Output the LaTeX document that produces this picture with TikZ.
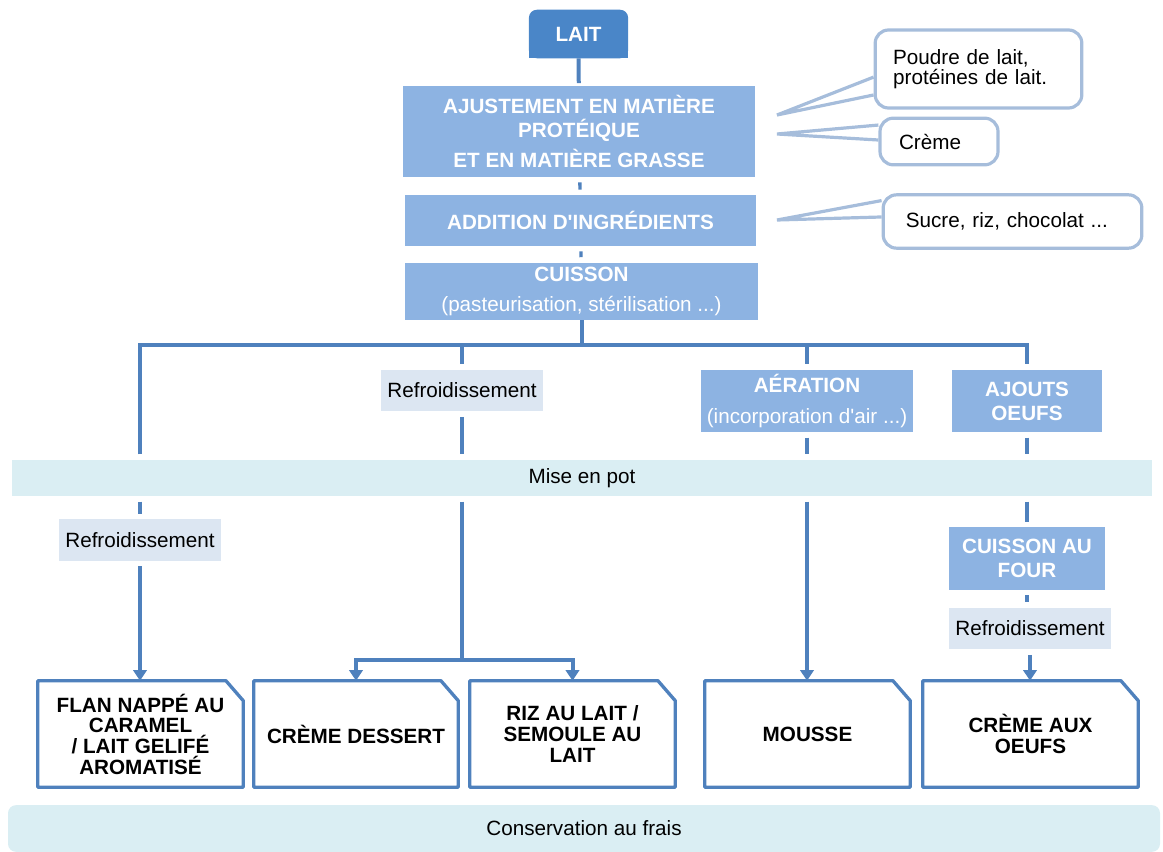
\documentclass[tikz,border=0pt]{standalone}
\usepackage{fontspec}
\setmainfont{Liberation Sans}
\usetikzlibrary{arrows.meta,calc,backgrounds}

\definecolor{laitblue}{RGB}{74,134,200}
\definecolor{procblue}{RGB}{141,179,226}
\definecolor{linkblue}{RGB}{79,129,189}
\definecolor{coolfill}{RGB}{220,230,242}
\definecolor{bandfill}{RGB}{218,238,243}
\definecolor{noteline}{RGB}{166,189,219}

\tikzset{
  laitbox/.style={text=white, font=\fontsize{15.5}{18}\selectfont\bfseries, minimum width=74pt, minimum height=36pt, inner sep=0pt},
  procbox/.style={fill=procblue, text=white, font=\fontsize{15.5}{18}\selectfont\bfseries, align=center, inner sep=0pt},
  coolbox/.style={fill=coolfill, font=\fontsize{15.5}{18}\selectfont, minimum width=122pt, minimum height=31pt, inner sep=0pt},
  bandbox/.style={fill=bandfill, font=\fontsize{15.5}{18}\selectfont, inner sep=0pt},
  prodbox/.style={font=\fontsize{15.5}{15.5}\selectfont\bfseries, align=center, minimum height=79.5pt, inner sep=0pt},
  notebox/.style={draw=noteline, line width=2.4pt, fill=white, rounded corners=10pt, font=\fontsize{15.5}{14.5}\selectfont, align=left, inner sep=0pt},
  flowline/.style={draw=linkblue, line width=3pt},
  flowarrow/.style={flowline, -{Triangle[width=10pt,length=8pt]}},
  gap/.style={shorten <=4pt, shorten >=4pt},
}

\begin{document}
\begin{tikzpicture}[x=0.75pt, y=-0.75pt]
\useasboundingbox (0,0) rectangle (1163,852);

% main chain
\node[laitbox] (lait) at (578.5,34) {LAIT};
\begin{scope}[on background layer]
  \fill[laitblue, rounded corners=6pt] (lait.south west) rectangle (lait.north east);
  \fill[laitblue] (lait.south west) rectangle (lait.east);
\end{scope}
\node[procbox, minimum width=264pt, minimum height=68pt] (ajust) at (579,131.5)
  {AJUSTEMENT EN MATIÈRE\\PROTÉIQUE\\[4pt]ET EN MATIÈRE GRASSE};
\node[procbox, minimum width=263pt, minimum height=38pt] (addit) at (580.5,220.5) {ADDITION D\textquotesingle INGRÉDIENTS};
\node[procbox, minimum width=265pt, minimum height=43pt] (cuis) at (581.5,291.5)
  {CUISSON\\[4pt]{\mdseries (pasteurisation, stérilisation ...)}};

% callouts
\node[notebox, minimum width=155pt, minimum height=58.5pt, text width=128pt] (poudre) at (978.5,69) {Poudre de lait,\\protéines de lait.};
\node[notebox, minimum width=88.5pt, minimum height=35pt, text width=60pt] (cremenote) at (939,141.5) {Crème};
\node[notebox, minimum width=194pt, minimum height=40pt, text width=160pt] (sucre) at (1012.5,221.5) {Sucre, riz, chocolat ...};
\coordinate (tip1) at (777,115);
\coordinate (tip2) at (777,134);
\coordinate (tip3) at (777,220);
\draw[noteline, line width=2.4pt] ($(poudre.north west)!0.60!(poudre.south west)$) -- (tip1) -- ($(poudre.north west)!0.82!(poudre.south west)$);
\draw[noteline, line width=2.4pt] ($(cremenote.north west)!0.17!(cremenote.south west)$) -- (tip2) -- ($(cremenote.north west)!0.47!(cremenote.south west)$);
\draw[noteline, line width=2.4pt] ($(sucre.north west)!0.13!(sucre.south west)$) -- (tip3) -- ($(sucre.north west)!0.42!(sucre.south west)$);

% branches
\node[coolbox] (refr1) at (462,390.5) {Refroidissement};
\node[procbox, minimum width=159pt, minimum height=46.5pt] (aer) at (807,401)
  {AÉRATION\\[5pt]{\mdseries (incorporation d\textquotesingle air ...)}};
\node[procbox, minimum width=112.5pt, minimum height=46.5pt] (ajouts) at (1027,401) {AJOUTS\\OEUFS};
\node[bandbox, minimum width=855pt, minimum height=27pt] (pot) at (582,478) {Mise en pot};
\node[coolbox] (refr2) at (140,540) {Refroidissement};
\node[procbox, minimum width=117pt, minimum height=47pt] (four) at (1027,558.5) {CUISSON AU\\FOUR};
\node[coolbox] (refr3) at (1030,628.5) {Refroidissement};

% products
\node[prodbox, minimum width=153.75pt] (flan) at (140.5,734) {FLAN NAPPÉ AU\\CARAMEL\\/ LAIT GELIFÉ\\AROMATISÉ};
\node[prodbox, minimum width=153pt] (creme) at (356,734) {CRÈME DESSERT};
\node[prodbox, minimum width=153.75pt] (riz) at (572.5,734) {RIZ AU LAIT /\\SEMOULE AU\\LAIT};
\node[prodbox, minimum width=153.75pt] (mousse) at (807.5,734) {MOUSSE};
\node[prodbox, minimum width=161.25pt] (oeufs) at (1030.5,734) {CRÈME AUX\\OEUFS};
\foreach \p in {flan,creme,riz,mousse,oeufs}
  \draw[linkblue, line width=2.5pt, line join=round] (\p.south west) -- (\p.north west)
    -- ([xshift=-13pt]\p.north east) -- ([yshift=-15pt]\p.north east) -- (\p.south east) -- cycle;

\node[bandbox, minimum width=864pt, minimum height=35pt, rounded corners=6pt] (frais) at (584,828.5) {Conservation au frais};

% connectors
\draw[flowline, shorten >=2pt] (lait) -- (ajust);
\draw[flowline, gap, line width=2.5pt] (ajust) -- (addit);
\draw[flowline, gap, line width=2.5pt] (addit) -- (cuis);
\coordinate (b1) at (140,345);
\coordinate (b4) at (1027,345);
\draw[flowline] (cuis.south) -- (cuis.south |- b1);
\draw[flowline, gap] (b1 |- pot.north) -- (b1) -- (b4) -- (ajouts.north);
\draw[flowline, shorten >=4pt] (b1 -| refr1) -- (refr1.north);
\draw[flowline, shorten >=4pt] (b1 -| aer) -- (aer.north);
\draw[flowline, gap] (refr1.south) -- (refr1.south |- pot.north);
\draw[flowline, gap] (aer.south) -- (aer.south |- pot.north);
\draw[flowline, gap] (ajouts.south) -- (ajouts.south |- pot.north);

\draw[flowline, gap] (pot.south -| refr2) -- (refr2.north);
\draw[flowarrow, shorten <=4pt] (refr2.south) -- (refr2.south |- flan.north);
\coordinate (split) at (462,660);
\draw[flowline, shorten <=4pt] (pot.south -| refr1) -- (split);
\draw[flowarrow] (split) -| (creme.north);
\draw[flowarrow] (split) -| (riz.north);
\draw[flowarrow, shorten <=4pt] (pot.south -| aer) -- (aer |- mousse.north);
\draw[flowline, gap] (pot.south -| four) -- (four.north);
\draw[flowline, gap] (four.south) -- (four.south |- refr3.north);
\draw[flowarrow, shorten <=4pt] (refr3.south) -- (refr3.south |- oeufs.north);

\end{tikzpicture}
\end{document}
